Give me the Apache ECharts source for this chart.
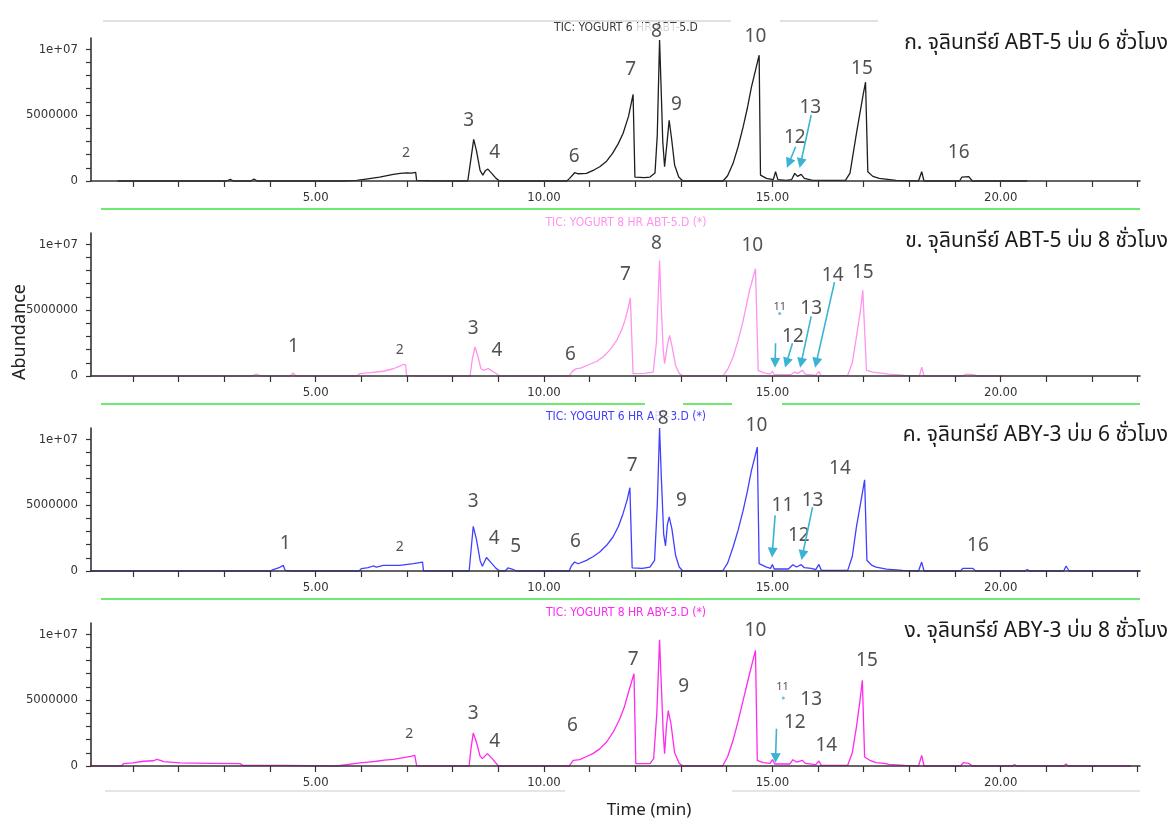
<!DOCTYPE html>
<html><head><meta charset="utf-8">
<script src="https://cdn.jsdelivr.net/npm/echarts@6/dist/echarts.min.js"></script>
<style>html,body{margin:0;padding:0;background:#fff}#c{width:1173px;height:819px}</style>
</head><body><div id="c"></div>
<script>
// ---------- axis ticks / labels ----------
const timeTicks = [1,2,3,4,5,6,7,8,9,10,11,12,13,14,15,16,17,18,19,20,21,22,23];
const timeLabelValues = [5,10,15,20];
const abundanceTicks = [0,1,2,3,4,5,6,7,8,9,10];           // in millions
const abundanceLabelValues = [0,5,10];
const abundanceLabelText = ['0','5000000','1e+07'];

// ---------- sample names ----------
const sampleTitles = ['ก. จุลินทรีย์ ABT-5 บ่ม 6 ชั่วโมง','ข. จุลินทรีย์ ABT-5 บ่ม 8 ชั่วโมง','ค. จุลินทรีย์ ABY-3 บ่ม 6 ชั่วโมง','ง. จุลินทรีย์ ABY-3 บ่ม 8 ชั่วโมง'];
const ticTitles = ['TIC: YOGURT 6 HR ABT-5.D','TIC: YOGURT 8 HR ABT-5.D (*)','TIC: YOGURT 6 HR ABY-3.D (*)','TIC: YOGURT 8 HR ABY-3.D (*)'];

// ---------- chromatograms: [time (min), abundance (millions)] ----------
const tic_ABT5_6h = [[0.66,0],[3.05,0],[3.13,0.12],[3.2,0],[3.58,0],[3.65,0.15],[3.72,0],[5.6,0],[5.9,0.05],[6.1,0.15],[6.4,0.3],[6.7,0.5],[6.85,0.58],[7.0,0.62],[7.1,0.6],[7.19,0.65],[7.21,0.05],[7.5,0.02],[8.33,0],[8.38,1.2],[8.46,3.16],[8.52,2.3],[8.6,0.8],[8.66,0.45],[8.72,0.8],[8.77,0.9],[8.85,0.6],[8.95,0.2],[9.03,0],[10.5,0],[10.56,0.2],[10.67,0.63],[10.75,0.55],[10.93,0.58],[11.1,0.85],[11.22,1.08],[11.37,1.5],[11.5,2.1],[11.62,2.8],[11.73,3.6],[11.85,4.9],[11.95,6.57],[11.99,0.3],[12.2,0.25],[12.32,0.3],[12.43,0.6],[12.48,3.5],[12.53,10.7],[12.56,7.5],[12.6,3],[12.64,1.08],[12.69,2.8],[12.74,4.6],[12.79,3.3],[12.86,1.2],[12.95,0.3],[13.04,0],[13.92,0],[14.02,0.4],[14.14,1.34],[14.25,2.6],[14.36,4.1],[14.45,5.5],[14.54,7.1],[14.63,8.4],[14.71,9.55],[14.74,0.45],[14.87,0.2],[15.02,0.1],[15.07,0.7],[15.12,0.1],[15.3,0.05],[15.42,0.1],[15.49,0.58],[15.55,0.35],[15.63,0.5],[15.7,0.2],[15.88,0.05],[16.6,0.05],[16.7,0.6],[16.84,3.6],[16.98,6.4],[17.04,7.5],[17.09,0.7],[17.2,0.35],[17.34,0.2],[17.71,0.05],[18.2,0],[18.27,0.7],[18.32,0],[19.1,0],[19.15,0.3],[19.3,0.33],[19.38,0],[20.58,0]];
const tic_ABT5_8h = [[0.08,0],[3.6,0],[3.7,0.15],[3.8,0],[4.45,0],[4.51,0.23],[4.56,0],[5.9,0],[5.97,0.18],[6.2,0.25],[6.48,0.36],[6.7,0.55],[6.84,0.75],[6.92,0.89],[6.97,0.85],[6.99,0.05],[7.3,0],[8.38,0],[8.43,1.3],[8.49,2.2],[8.55,1.5],[8.62,0.55],[8.67,0.43],[8.78,0.56],[8.9,0.3],[9.03,0],[10.55,0],[10.62,0.35],[10.71,0.56],[10.8,0.6],[11.0,0.89],[11.15,1.1],[11.29,1.44],[11.45,2.0],[11.59,2.7],[11.7,3.5],[11.77,4.2],[11.84,5.1],[11.89,5.94],[11.95,0.18],[12.2,0.2],[12.39,0.3],[12.46,2.5],[12.53,8.77],[12.57,5],[12.61,2],[12.64,0.94],[12.7,2.3],[12.75,3.08],[12.8,2.3],[12.88,0.8],[12.96,0.2],[13.04,0],[13.92,0],[14.02,0.5],[14.14,1.44],[14.25,2.7],[14.36,4.2],[14.5,6.5],[14.63,8.14],[14.69,0.43],[14.8,0.25],[14.87,0.2],[14.96,0.15],[15.0,0.38],[15.04,0.1],[15.4,0.1],[15.49,0.3],[15.56,0.2],[15.66,0.43],[15.72,0.15],[15.95,0.05],[16.02,0.35],[16.07,0],[16.65,0.05],[16.75,1.0],[16.84,2.95],[16.93,5.0],[16.98,6.5],[17.06,0.43],[17.2,0.3],[17.34,0.23],[17.55,0.15],[17.9,0.05],[18.22,0],[18.27,0.68],[18.32,0],[19.15,0],[19.25,0.15],[19.4,0.1],[19.5,0],[20.05,0]];
const tic_ABY3_6h = [[0.08,0],[4.0,0],[4.07,0.1],[4.2,0.25],[4.29,0.43],[4.33,0.05],[4.5,0],[5.95,0],[6.0,0.18],[6.15,0.25],[6.26,0.38],[6.33,0.3],[6.48,0.43],[6.84,0.43],[7.14,0.56],[7.34,0.68],[7.36,0.02],[8.36,0],[8.4,1.5],[8.45,3.39],[8.52,2.4],[8.6,0.8],[8.65,0.36],[8.74,1.02],[8.85,0.6],[8.95,0.2],[9.03,0],[9.15,0],[9.21,0.23],[9.3,0.15],[9.4,0],[10.55,0],[10.6,0.4],[10.67,0.68],[10.75,0.55],[10.93,0.81],[11.08,1.1],[11.22,1.44],[11.37,1.95],[11.51,2.58],[11.63,3.4],[11.73,4.35],[11.82,5.4],[11.88,6.32],[11.93,0.23],[12.15,0.2],[12.32,0.3],[12.42,0.8],[12.48,5],[12.53,10.85],[12.57,7],[12.62,2.8],[12.66,1.9],[12.7,3.5],[12.74,4.1],[12.8,3.2],[12.88,1.2],[12.96,0.3],[13.04,0],[13.91,0],[14.02,0.6],[14.14,1.82],[14.25,3.1],[14.36,4.6],[14.45,6.0],[14.54,7.6],[14.62,8.7],[14.67,9.4],[14.71,0.56],[14.87,0.3],[14.96,0.2],[15.0,0.5],[15.04,0.15],[15.35,0.15],[15.45,0.48],[15.53,0.3],[15.63,0.48],[15.7,0.25],[15.85,0.2],[15.95,0.1],[16.02,0.5],[16.07,0.05],[16.65,0.05],[16.75,1.1],[16.84,3.33],[16.94,5.3],[17.02,6.92],[17.07,0.81],[17.17,0.45],[17.27,0.3],[17.5,0.15],[17.85,0.05],[18.2,0],[18.27,0.68],[18.32,0],[19.12,0],[19.17,0.2],[19.39,0.2],[19.45,0],[20.53,0],[20.58,0.12],[20.63,0],[21.38,0],[21.43,0.38],[21.5,0],[23.05,0]];
const tic_ABY3_8h = [[0.08,0],[0.75,0],[0.79,0.18],[1.0,0.23],[1.23,0.36],[1.45,0.4],[1.52,0.5],[1.6,0.43],[1.67,0.33],[2.03,0.23],[2.7,0.2],[3.34,0.18],[3.41,0.05],[4.3,0.05],[5.46,0],[5.97,0.23],[6.15,0.3],[6.33,0.36],[6.5,0.45],[6.7,0.5],[6.99,0.68],[7.1,0.75],[7.17,0.81],[7.21,0.02],[8.36,0],[8.4,1.3],[8.45,2.5],[8.52,1.8],[8.6,0.75],[8.65,0.56],[8.76,0.94],[8.88,0.5],[9.0,0],[10.55,0],[10.64,0.43],[10.78,0.48],[10.92,0.7],[11.07,0.94],[11.22,1.3],[11.37,1.82],[11.52,2.6],[11.66,3.59],[11.76,4.5],[11.84,5.48],[11.91,6.3],[11.97,7.0],[12.01,0.18],[12.32,0.18],[12.4,0.56],[12.47,4],[12.53,9.58],[12.57,6],[12.61,2.5],[12.64,0.94],[12.68,3],[12.72,4.2],[12.78,3.2],[12.86,1.0],[12.96,0.2],[13.04,0],[13.91,0],[14.02,0.7],[14.14,1.95],[14.25,3.4],[14.36,4.98],[14.5,7.0],[14.63,8.77],[14.67,0.43],[14.8,0.25],[14.95,0.2],[15.0,0.48],[15.05,0.15],[15.38,0.15],[15.45,0.48],[15.53,0.3],[15.66,0.43],[15.72,0.2],[15.95,0.1],[16.02,0.38],[16.07,0.05],[16.65,0.05],[16.75,1.0],[16.84,2.95],[16.92,5.0],[16.97,6.5],[17.02,0.68],[17.15,0.4],[17.27,0.25],[17.45,0.2],[17.49,0.3],[17.55,0.12],[17.9,0.05],[18.2,0],[18.27,0.81],[18.32,0],[19.12,0],[19.18,0.25],[19.3,0.2],[19.38,0],[20.25,0],[20.3,0.1],[20.35,0],[21.38,0],[21.43,0.15],[21.48,0],[22.85,0]];

// ---------- peak number annotations: [text, time, abundance(millions), size] ----------
const peaks_ABT5_6h = [['2',6.98,2.12,'s'],['3',8.35,4.55,''],['4',8.92,2.14,''],['6',10.66,1.83,''],['7',11.90,8.48,''],['8',12.46,11.31,'w'],['9',12.90,5.76,''],['10',14.63,10.98,''],['12',15.49,3.33,''],['13',15.83,5.58,''],['15',16.96,8.54,''],['16',19.08,2.14,'']];
const peaks_ABT5_8h = [['1',4.51,2.2,''],['2',6.84,1.95,'s'],['3',8.45,3.59,''],['4',8.97,1.95,''],['6',10.58,1.64,''],['7',11.78,7.70,''],['8',12.46,10.03,''],['10',14.56,9.90,''],['11',15.16,5.28,'xs'],['12',15.45,3.0,''],['13',15.85,5.13,''],['14',16.32,7.63,''],['15',16.98,7.88,'']];
const peaks_ABY3_6h = [['1',4.33,2.08,''],['2',6.84,1.82,'s'],['3',8.45,5.23,''],['4',8.91,2.45,''],['5',9.38,1.82,''],['6',10.69,2.2,''],['7',11.93,8.01,''],['8',12.61,11.55,'w2'],['9',13.01,5.36,''],['10',14.65,11.04,''],['11',15.22,4.98,''],['12',15.58,2.70,''],['13',15.88,5.36,''],['14',16.48,7.76,''],['16',19.50,1.95,'']];
const peaks_ABY3_8h = [['2',7.05,2.45,'s'],['3',8.45,3.97,''],['4',8.92,1.82,''],['6',10.62,3.08,''],['7',11.95,8.06,''],['9',13.06,6.04,''],['10',14.63,10.28,''],['11',15.22,6.04,'xs'],['12',15.49,3.33,''],['13',15.85,5.03,''],['14',16.18,1.57,''],['15',17.07,8.01,'']];

// ---------- arrows: [from, to] ----------
const arrows_ABT5_6h = [[[15.51,2.6],[15.36,1.35]],[[15.85,5.0],[15.62,1.35]]];
const arrows_ABT5_8h = [[[15.07,2.48],[15.06,1.0]],[[15.44,2.48],[15.31,1.0]],[[15.85,4.52],[15.63,1.0]],[[16.36,7.12],[15.96,1.0]]];
const arrows_ABY3_6h = [[[15.06,4.22],[15.0,1.4]],[[15.88,4.85],[15.66,1.2]]];
const arrows_ABY3_8h = [[[15.09,2.83],[15.07,0.6]]];
const dots_ABT5_8h = [[15.16,4.74]];
const dots_ABY3_8h = [[15.24,5.15]];

const lineColors = ['#1e1e1e','#ff93ee','#4040ff','#ff2af0'];
const ticColors = ['#3a3a3a','#ff93ee','#4040ff','#ff2af0'];
const panelData = [tic_ABT5_6h, tic_ABT5_8h, tic_ABY3_6h, tic_ABY3_8h];
const panelPeaks = [peaks_ABT5_6h, peaks_ABT5_8h, peaks_ABY3_6h, peaks_ABY3_8h];
const panelArrows = [arrows_ABT5_6h, arrows_ABT5_8h, arrows_ABY3_6h, arrows_ABY3_8h];
const panelDots = [[], dots_ABT5_8h, [], dots_ABY3_8h];

// ---------- layout ----------
const X_MIN = 0.08, X_MAX = 23.05, Y_MAX = 10.85;
const gridTops = [38, 233, 428, 623];
const GRID_H = 143;
const narrow = "'Liberation Sans Narrow','Arial Narrow','DejaVu Sans Condensed',sans-serif";
const peakFont = "'Noto Sans','Open Sans',sans-serif";
const thaiFont = "'Noto Sans Thai','Leelawadee UI','Noto Sans',sans-serif";
const arrowColor = '#3bb4d3';

const grids = [], xAxes = [], yAxes = [], series = [];
gridTops.forEach((top, i) => {
  grids.push({left: 91, right: 33, top: top, height: GRID_H});
  xAxes.push({
    type: 'value', gridIndex: i, min: X_MIN, max: X_MAX, z: 3,
    axisLine: {show: true, onZero: false, lineStyle: {color: '#333', width: 1.6}},
    axisTick: {show: true, customValues: timeTicks, length: 6, lineStyle: {color: '#333', width: 1.2}},
    axisLabel: {show: true, customValues: timeLabelValues, formatter: v => v.toFixed(2), margin: 10, color: '#333', fontSize: 13, fontFamily: narrow},
    splitLine: {show: false}
  });
  yAxes.push({
    type: 'value', gridIndex: i, min: 0, max: Y_MAX, z: 3,
    axisLine: {show: true, lineStyle: {color: '#333', width: 1.6}},
    axisTick: {show: true, customValues: abundanceTicks, length: 5, lineStyle: {color: '#333', width: 1.2}},
    axisLabel: {show: true, customValues: abundanceLabelValues, margin: 13, color: '#333', fontSize: 13, fontFamily: narrow,
      formatter: v => abundanceLabelText[abundanceLabelValues.indexOf(Math.round(v))]},
    splitLine: {show: false}
  });
  series.push({
    type: 'line', xAxisIndex: i, yAxisIndex: i, data: panelData[i], showSymbol: false, z: 2, clip: false,
    lineStyle: {color: lineColors[i], width: 1.3}, animation: false, silent: true
  });
  series.push({
    type: 'scatter', xAxisIndex: i, yAxisIndex: i, symbolSize: 0, z: 1, clip: false, silent: true, animation: false,
    data: panelPeaks[i].map(p => {
      const lab = {fontSize: 19};
      if (p[3] === 's') lab.fontSize = 14;
      if (p[3] === 'xs') lab.fontSize = 11;
      if (p[3] === 'w') { lab.backgroundColor = '#fff'; lab.padding = [0, 17, 0, 17]; lab.lineHeight = 18; }
      if (p[3] === 'w2') { lab.backgroundColor = '#fff'; lab.padding = [0, 3, 0, 3]; lab.lineHeight = 18; }
      return {name: p[0], value: [p[1], p[2]], label: lab};
    }),
    label: {show: true, position: 'inside', formatter: '{b}', color: '#262626', fontFamily: peakFont}
  });
  series.push({
    type: 'lines', coordinateSystem: 'cartesian2d', xAxisIndex: i, yAxisIndex: i, z: 4, silent: true, animation: false,
    symbol: ['none', 'triangle'], symbolSize: 10,
    lineStyle: {color: arrowColor, width: 1.6, opacity: 1},
    data: panelArrows[i].map(a => ({coords: a}))
  });
  if (panelDots[i].length) series.push({
    type: 'scatter', xAxisIndex: i, yAxisIndex: i, symbolSize: 3, z: 4, silent: true, animation: false,
    itemStyle: {color: arrowColor}, data: panelDots[i]
  });
});

const graphics = [];
const ticY = [28, 223, 417, 613];
const thaiY = [45, 243, 437, 633];
for (let i = 0; i < 4; i++) {
  graphics.push({type: 'text', z: 0, x: 626, y: ticY[i], style: {text: ticTitles[i], fill: ticColors[i], font: '12px ' + narrow, textAlign: 'center', textVerticalAlign: 'middle'}});
  graphics.push({type: 'text', z: 5, x: 1168, y: thaiY[i], style: {text: sampleTitles[i], fill: '#1a1a1a', font: '21px ' + thaiFont, textAlign: 'right', textVerticalAlign: 'middle'}});
}
function hline(x1, x2, y, color, w) {
  graphics.push({type: 'line', z: 0, silent: true, shape: {x1: x1, y1: y, x2: x2, y2: y}, style: {stroke: color, lineWidth: w}});
}
hline(103, 731, 21, '#c4c4c4', 1.2); hline(780, 878, 21, '#c4c4c4', 1.2);
hline(101, 1140, 209, '#6ee86e', 2);
hline(101, 645, 404, '#6ee86e', 2); hline(683, 732, 404, '#6ee86e', 2); hline(782, 1140, 404, '#6ee86e', 2);
hline(101, 1140, 599, '#6ee86e', 2);
hline(105, 565, 791, '#dddddd', 1.5); hline(732, 1140, 791, '#dddddd', 1.5);
graphics.push({type: 'text', x: 20, y: 332, rotation: Math.PI / 2, style: {text: 'Abundance', fill: '#222', font: '18px ' + peakFont, textAlign: 'center', textVerticalAlign: 'middle'}});
graphics.push({type: 'text', x: 649, y: 810, style: {text: 'Time (min)', fill: '#222', font: '17px ' + peakFont, textAlign: 'center', textVerticalAlign: 'middle'}});

const chart = echarts.init(document.getElementById('c'), null, {renderer: 'canvas'});
chart.setOption({
  animation: false,
  backgroundColor: '#fff',
  grid: grids, xAxis: xAxes, yAxis: yAxes, series: series, graphic: graphics
});
</script></body></html>
